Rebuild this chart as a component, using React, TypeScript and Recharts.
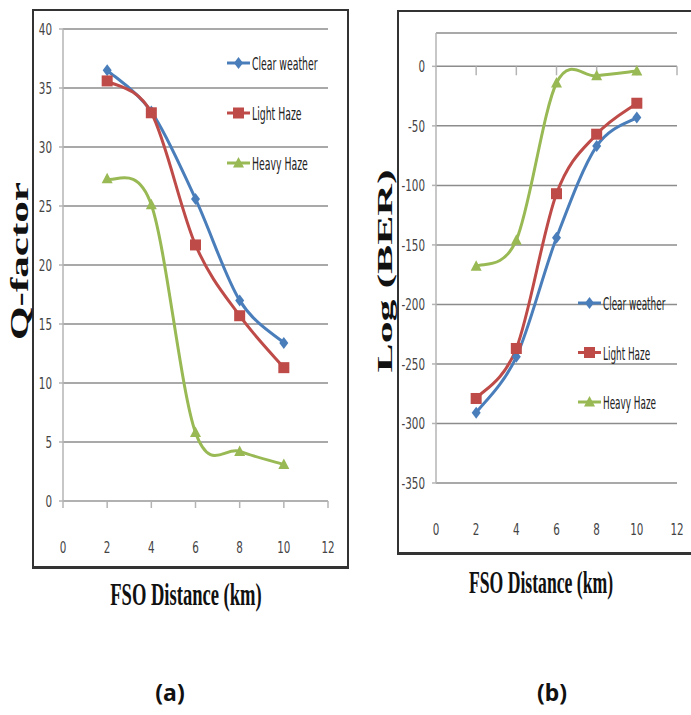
import { LineChart, Line, XAxis, YAxis, CartesianGrid, Legend, ReferenceLine } from "recharts";

// FSO link distance (km) and the three weather cases
const distanceKm = [2, 4, 6, 8, 10];
const seriesNames = ["Clear weather", "Light Haze", "Heavy Haze"];

// (a) Q-factor
const qClear = [36.5, 33, 25.6, 17, 13.4];
const qLight = [35.6, 32.9, 21.7, 15.7, 11.3];
const qHeavy = [27.3, 25.1, 5.8, 4.2, 3.1];

// (b) Log (BER)
const berClear = [-291, -244, -144, -67, -43];
const berLight = [-279, -237, -107, -57, -31];
const berHeavy = [-168, -146, -14, -8, -4];

const xTicks = [0, 2, 4, 6, 8, 10, 12];
const qTicks = [0, 5, 10, 15, 20, 25, 30, 35, 40];
const berTicks = [-350, -300, -250, -200, -150, -100, -50, 0];

const qData = distanceKm.map((km, i) => ({ km, clear: qClear[i], light: qLight[i], heavy: qHeavy[i] }));
const berData = distanceKm.map((km, i) => ({ km, clear: berClear[i], light: berLight[i], heavy: berHeavy[i] }));

const COLORS: Record<string, string> = {
  "Clear weather": "#4a7ebb",
  "Light Haze": "#be4b48",
  "Heavy Haze": "#98b954",
};
const SHAPES: Record<string, string> = {
  "Clear weather": "diamond",
  "Light Haze": "square",
  "Heavy Haze": "triangle",
};

const tickFont = "'Liberation Sans Narrow', 'DejaVu Sans Condensed', 'Arial Narrow', sans-serif";
const serif = "'Liberation Serif', 'Times New Roman', serif";
const GRID = "#8c8c8c";
const AXIS = "#b4b4b4";

// Excel style smoothed line (Catmull-Rom through every point)
const excelSmooth = (ctx: any) => {
  let pts: number[][] = [];
  return {
    areaStart() {},
    areaEnd() {},
    lineStart() {
      pts = [];
    },
    point(x: number, y: number) {
      pts.push([+x, +y]);
    },
    lineEnd() {
      if (!pts.length) return;
      ctx.moveTo(pts[0][0], pts[0][1]);
      for (let i = 0; i < pts.length - 1; i++) {
        const p0 = pts[i - 1] || pts[i];
        const p1 = pts[i];
        const p2 = pts[i + 1];
        const p3 = pts[i + 2] || p2;
        ctx.bezierCurveTo(
          p1[0] + (p2[0] - p0[0]) / 6,
          p1[1] + (p2[1] - p0[1]) / 6,
          p2[0] - (p3[0] - p1[0]) / 6,
          p2[1] - (p3[1] - p1[1]) / 6,
          p2[0],
          p2[1]
        );
      }
    },
  };
};

function Marker({ kind, cx, cy, color }: any) {
  if (cx == null || cy == null) return null;
  if (kind === "diamond")
    return <path d={`M${cx},${cy - 6}L${cx + 4.5},${cy}L${cx},${cy + 6}L${cx - 4.5},${cy}Z`} fill={color} />;
  if (kind === "square") return <rect x={cx - 5.5} y={cy - 5.5} width={11} height={11} fill={color} />;
  return <path d={`M${cx},${cy - 6}L${cx + 5.5},${cy + 4.5}L${cx - 5.5},${cy + 4.5}Z`} fill={color} />;
}

const dotFor = (name: string) => (p: any) =>
  <Marker key={`${name}-${p.index}`} kind={SHAPES[name]} color={COLORS[name]} cx={p.cx} cy={p.cy} />;

// bold serif title, squeezed horizontally like the scanned figure
function XTitle({ tx, ty, text, size, sx }: any) {
  return (
    <text
      x={0}
      y={0}
      transform={`translate(${tx} ${ty}) scale(${sx} 1)`}
      textAnchor="middle"
      fontFamily={serif}
      fontWeight="bold"
      fontSize={size}
      fill="#111"
    >
      {text}
    </text>
  );
}

function YTitle({ tx, ty, text, size, length }: any) {
  return (
    <text
      x={tx}
      y={ty}
      transform={`rotate(-90 ${tx} ${ty})`}
      textAnchor="middle"
      dominantBaseline="central"
      fontFamily={serif}
      fontWeight="bold"
      fontSize={size}
      textLength={length}
      lengthAdjust="spacingAndGlyphs"
      fill="#111"
    >
      {text}
    </text>
  );
}

// legend keeps the series order (Recharts would sort it by name)
const legendContent = (rowGap: number, sx: number) => () =>
  (
    <svg width={100} height={140} style={{ overflow: "visible" }}>
      {seriesNames.map((name, i) => {
        const y = 15 + i * rowGap;
        return (
          <g key={name}>
            <line x1={0} x2={23} y1={y} y2={y} stroke={COLORS[name]} strokeWidth={3} />
            <Marker kind={SHAPES[name]} color={COLORS[name]} cx={11.5} cy={y} />
            <text
              x={0}
              y={0}
              transform={`translate(25 ${y + 1}) scale(${sx} 1)`}
              dominantBaseline="central"
              fontFamily={tickFont}
              fontSize={17}
              fill="#222"
            >
              {name}
            </text>
          </g>
        );
      })}
    </svg>
  );

// narrow, tall digits like the source
const NumText = ({ x, y, anchor, value }: any) => (
  <text
    x={0}
    y={0}
    transform={`translate(${x} ${y}) scale(0.72 1)`}
    textAnchor={anchor}
    dominantBaseline="central"
    fontFamily={tickFont}
    fontSize={16}
    fill="#444"
  >
    {value}
  </text>
);

const xTick = (offset: number) => (p: any) =>
  <NumText x={p.x} y={p.y + offset} anchor="middle" value={p.payload.value} />;

const yTick = (p: any) => <NumText x={p.x} y={p.y} anchor="end" value={p.payload.value} />;

export default function App() {
  const keys = ["clear", "light", "heavy"];
  return (
    <div style={{ position: "absolute", left: 0, top: 0, width: 691, height: 715, background: "#fff", overflow: "hidden" }}>
      {/* panel frames */}
      <div
        style={{
          position: "absolute",
          left: 32,
          top: 9,
          width: 317,
          height: 560,
          boxSizing: "border-box",
          border: "2px solid #333",
          borderBottomWidth: 3,
        }}
      />
      <div
        style={{
          position: "absolute",
          left: 397,
          top: 10,
          width: 320,
          height: 545,
          boxSizing: "border-box",
          border: "2px solid #333",
          borderBottomWidth: 3,
        }}
      />

      {/* (a) Q-factor */}
      <div style={{ position: "absolute", left: 0, top: 0 }}>
        <LineChart width={350} height={620} data={qData} margin={{ top: 29, right: 22, left: 0, bottom: 0 }}>
          <CartesianGrid vertical={false} stroke={GRID} strokeWidth={1.5} />
          <XAxis
            dataKey="km"
            type="number"
            domain={[0, 12]}
            ticks={xTicks}
            height={119}
            stroke={AXIS}
            strokeWidth={1.5}
            tickSize={7}
            tickMargin={0}
            tick={xTick(39)}
            label={<XTitle tx={186} ty={605} text="FSO Distance (km)" size={32} sx={0.58} />}
          />
          <YAxis
            type="number"
            domain={[0, 40]}
            ticks={qTicks}
            width={63}
            stroke={AXIS}
            strokeWidth={1.5}
            tickSize={4}
            tickMargin={7}
            tick={yTick}
            label={<YTitle tx={19} ty={261} text="Q-factor" size={26} length={158} />}
          />
          <Legend
            layout="vertical"
            align="center"
            verticalAlign="middle"
            content={legendContent(50, 0.61)}
            wrapperStyle={{ left: 227, top: 48, width: 100 }}
          />
          {keys.map((k, i) => (
            <Line
              key={k}
              dataKey={k}
              name={seriesNames[i]}
              type={excelSmooth as any}
              stroke={COLORS[seriesNames[i]]}
              strokeWidth={3}
              dot={dotFor(seriesNames[i])}
              activeDot={false}
              isAnimationActive={false}
            />
          ))}
        </LineChart>
      </div>

      {/* (b) Log (BER) */}
      <div style={{ position: "absolute", left: 360, top: 0 }}>
        <LineChart width={331} height={620} data={berData} margin={{ top: 33, right: 14, left: 0, bottom: 0 }}>
          <CartesianGrid vertical={false} stroke={GRID} strokeWidth={1.5} />
          <XAxis
            dataKey="km"
            type="number"
            domain={[0, 12]}
            ticks={xTicks}
            height={137}
            axisLine={false}
            tickLine={false}
            tickSize={0}
            tickMargin={0}
            tick={xTick(46)}
            label={<XTitle tx={181} ty={593} text="FSO Distance (km)" size={31} sx={0.57} />}
          />
          <YAxis
            type="number"
            domain={[-350, 28]}
            ticks={berTicks}
            width={76}
            stroke={AXIS}
            strokeWidth={1.5}
            tickSize={4}
            tickMargin={7}
            tick={yTick}
            label={<YTitle tx={24} ty={271} text="Log (BER)" size={22} length={203} />}
          />
          {xTicks.slice(1).map((t) => (
            <ReferenceLine key={`tk${t}`} segment={[{ x: t, y: 0 }, { x: t, y: -7.5 }]} stroke={AXIS} strokeWidth={1.5} />
          ))}
          <Legend
            layout="vertical"
            align="center"
            verticalAlign="middle"
            content={legendContent(49.5, 0.58)}
            wrapperStyle={{ left: 218, top: 288, width: 100 }}
          />
          {keys.map((k, i) => (
            <Line
              key={k}
              dataKey={k}
              name={seriesNames[i]}
              type={excelSmooth as any}
              stroke={COLORS[seriesNames[i]]}
              strokeWidth={3}
              dot={dotFor(seriesNames[i])}
              activeDot={false}
              isAnimationActive={false}
            />
          ))}
        </LineChart>
      </div>

      {/* sub-figure captions */}
      <div
        style={{
          position: "absolute",
          left: 120,
          top: 676,
          width: 100,
          textAlign: "center",
          fontFamily: "'Noto Sans', sans-serif",
          fontWeight: "bold",
          fontSize: 23,
          lineHeight: "32px",
          color: "#111",
        }}
      >
        (a)
      </div>
      <div
        style={{
          position: "absolute",
          left: 502,
          top: 676,
          width: 100,
          textAlign: "center",
          fontFamily: "'Noto Sans', sans-serif",
          fontWeight: "bold",
          fontSize: 23,
          lineHeight: "32px",
          color: "#111",
        }}
      >
        (b)
      </div>
    </div>
  );
}
